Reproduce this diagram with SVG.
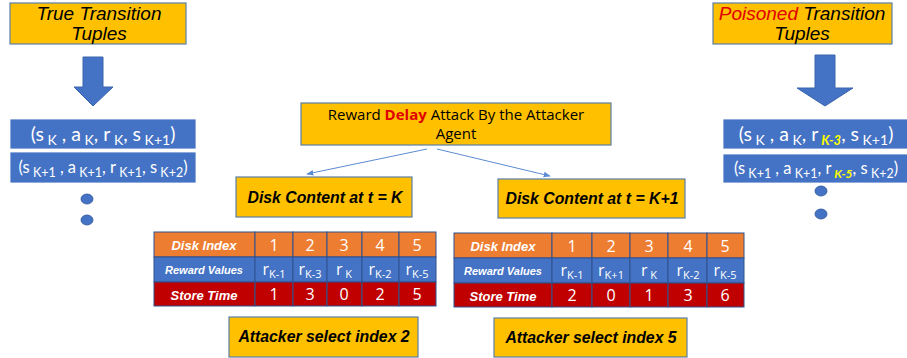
<svg xmlns="http://www.w3.org/2000/svg" width="907" height="358" viewBox="0 0 907 358">
<defs>
<style>
.ybox{fill:#FFC000;stroke:#5B7FA8;stroke-width:1.2}
.tbox{fill:#4472C4;stroke:#fff;stroke-width:0.8}
.arrow{fill:#4472C4;stroke:#3A64AE;stroke-width:1}
.dot{fill:#4472C4;stroke:#2F5597;stroke-width:0.8}
.title{font-family:"Liberation Sans",sans-serif;font-style:italic;font-size:19px;fill:#000}
.tup{font-family:Lato,"Open Sans",sans-serif;fill:#fff}
.mid{font-family:"Open Sans",sans-serif;font-size:15px;fill:#000}
.bi{font-family:"Liberation Sans",sans-serif;font-weight:bold;font-style:italic;fill:#000}
.or{fill:#ED7D31;stroke:#2F528F;stroke-width:1}
.bl{fill:#4472C4;stroke:#2F528F;stroke-width:1}
.rd{fill:#C00000;stroke:#2F528F;stroke-width:1}
.hd{font-family:"Liberation Sans",sans-serif;font-weight:bold;font-style:italic;fill:#fff}
.num{font-family:"Open Sans",sans-serif;font-size:16px;fill:#fff}
.rv{font-family:"Open Sans",sans-serif;font-size:16px;fill:#fff}
.conn{stroke:#5B8BD0;stroke-width:1;fill:none}
</style>
<marker id="ah" viewBox="0 0 10 10" refX="9" refY="5" markerWidth="7" markerHeight="7" orient="auto-start-reverse" markerUnits="userSpaceOnUse">
<path d="M0,1 L10,5 L0,9 z" fill="#5B8BD0"/>
</marker>
</defs>

<!-- Left: true transition tuples -->
<g id="true-title">
<rect class="ybox" x="10" y="3" width="176" height="41"/>
<text class="title" x="99" y="20" text-anchor="middle">True Transition</text>
<text class="title" x="99" y="40" text-anchor="middle">Tuples</text>
</g>
<g id="true-arrow">
<path class="arrow" d="M83,57 L103,57 L103,87 L113,87 L93,106 L74,87 L83,87 z"/>
</g>
<g id="true-tuple1">
<rect class="tbox" x="10" y="119" width="186" height="30"/>
<text class="tup" x="103" y="141" text-anchor="middle" font-size="19.5">(s<tspan font-size="14" dy="4"> K</tspan><tspan dy="-4"> , a</tspan><tspan font-size="14" dy="4"> K</tspan><tspan dy="-4">, r</tspan><tspan font-size="14" dy="4"> K</tspan><tspan dy="-4">, s</tspan><tspan font-size="14" dy="4"> K+1</tspan><tspan dy="-4">)</tspan></text>
</g>
<g id="true-tuple2">
<rect class="tbox" x="10" y="152" width="186" height="31"/>
<text class="tup" x="103" y="173" text-anchor="middle" font-size="16.5">(s<tspan font-size="12.5" dy="4"> K+1</tspan><tspan dy="-4"> , a</tspan><tspan font-size="12.5" dy="4"> K+1</tspan><tspan dy="-4">, r</tspan><tspan font-size="12.5" dy="4"> K+1</tspan><tspan dy="-4">, s</tspan><tspan font-size="12.5" dy="4"> K+2</tspan><tspan dy="-4">)</tspan></text>
</g>
<g id="true-dots">
<ellipse class="dot" cx="87" cy="199" rx="6" ry="5"/>
<ellipse class="dot" cx="87" cy="220" rx="6" ry="5"/>
</g>

<!-- Right: poisoned transition tuples -->
<g id="poison-title">
<rect class="ybox" x="713" y="3" width="179" height="41"/>
<text class="title" x="802" y="20" text-anchor="middle"><tspan fill="#E00000">Poisoned</tspan> Transition</text>
<text class="title" x="802" y="40" text-anchor="middle">Tuples</text>
</g>
<g id="poison-arrow">
<path class="arrow" d="M815,55 L835,55 L835,88 L853,88 L825,106 L797,88 L815,88 z"/>
</g>
<g id="poison-tuple1">
<rect class="tbox" x="723" y="119" width="186" height="30"/>
<text class="tup" x="816" y="141" text-anchor="middle" font-size="19.5">(s<tspan font-size="14" dy="4"> K</tspan><tspan dy="-4"> , a</tspan><tspan font-size="14" dy="4"> K</tspan><tspan dy="-4">, r</tspan><tspan font-size="13" dy="4" fill="#FFFF00" font-weight="bold" font-style="italic"> K-3</tspan><tspan dy="-4">, s</tspan><tspan font-size="14" dy="4"> K+1</tspan><tspan dy="-4">)</tspan></text>
</g>
<g id="poison-tuple2">
<rect class="tbox" x="723" y="154" width="186" height="29"/>
<text class="tup" x="816" y="174" text-anchor="middle" font-size="16.5">(s<tspan font-size="12.5" dy="4"> K+1</tspan><tspan dy="-4"> , a</tspan><tspan font-size="12.5" dy="4"> K+1</tspan><tspan dy="-4">, r</tspan><tspan font-size="12" dy="4" fill="#FFFF00" font-weight="bold" font-style="italic"> K-5</tspan><tspan dy="-4">, s</tspan><tspan font-size="12.5" dy="4"> K+2</tspan><tspan dy="-4">)</tspan></text>
</g>
<g id="poison-dots">
<ellipse class="dot" cx="821" cy="191" rx="6" ry="5"/>
<ellipse class="dot" cx="821" cy="214" rx="6" ry="5"/>
</g>

<!-- Middle -->
<g id="attack-box">
<rect class="ybox" x="301" y="103" width="310" height="42"/>
<text class="mid" x="456" y="120" text-anchor="middle">Reward <tspan fill="#E00000" font-weight="bold">Delay</tspan> Attack By the Attacker</text>
<text class="mid" x="456" y="139" text-anchor="middle">Agent</text>
</g>

<g id="connectors">
<line class="conn" x1="427" y1="149" x2="307" y2="174" marker-end="url(#ah)"/>
<line class="conn" x1="437" y1="149" x2="550" y2="176" marker-end="url(#ah)"/>
</g>

<g id="disk-k">
<rect class="ybox" x="236" y="177" width="176" height="40"/>
<text class="bi" x="325" y="203" text-anchor="middle" font-size="15.8">Disk Content at t = K</text>
</g>
<g id="disk-k1">
<rect class="ybox" x="498" y="179" width="187" height="39"/>
<text class="bi" x="592" y="204" text-anchor="middle" font-size="15.8">Disk Content at t = K+1</text>
</g>

<!-- Table left -->
<g id="table-k">
<rect class="or" x="154" y="232" width="101" height="25"/>
<rect class="or" x="255" y="232" width="38" height="25"/>
<rect class="or" x="293" y="232" width="34" height="25"/>
<rect class="or" x="327" y="232" width="35" height="25"/>
<rect class="or" x="362" y="232" width="37" height="25"/>
<rect class="or" x="399" y="232" width="37" height="25"/>
<rect class="bl" x="154" y="257" width="101" height="25"/>
<rect class="bl" x="255" y="257" width="38" height="25"/>
<rect class="bl" x="293" y="257" width="34" height="25"/>
<rect class="bl" x="327" y="257" width="35" height="25"/>
<rect class="bl" x="362" y="257" width="37" height="25"/>
<rect class="bl" x="399" y="257" width="37" height="25"/>
<rect class="rd" x="154" y="282" width="101" height="24"/>
<rect class="rd" x="255" y="282" width="38" height="24"/>
<rect class="rd" x="293" y="282" width="34" height="24"/>
<rect class="rd" x="327" y="282" width="35" height="24"/>
<rect class="rd" x="362" y="282" width="37" height="24"/>
<rect class="rd" x="399" y="282" width="37" height="24"/>
<text class="hd" x="204" y="250" text-anchor="middle" font-size="13">Disk Index</text>
<text class="hd" x="204" y="274" text-anchor="middle" font-size="11">Reward Values</text>
<text class="hd" x="204" y="300" text-anchor="middle" font-size="13">Store Time</text>
<text class="num" x="274" y="251" text-anchor="middle">1</text>
<text class="num" x="310" y="251" text-anchor="middle">2</text>
<text class="num" x="344" y="251" text-anchor="middle">3</text>
<text class="num" x="380" y="251" text-anchor="middle">4</text>
<text class="num" x="417" y="251" text-anchor="middle">5</text>
<text class="rv" x="274" y="275" text-anchor="middle">r<tspan font-size="11" dy="3">K-1</tspan></text>
<text class="rv" x="310" y="275" text-anchor="middle">r<tspan font-size="11" dy="3">K-3</tspan></text>
<text class="rv" x="344" y="275" text-anchor="middle">r<tspan font-size="11" dy="3"> K</tspan></text>
<text class="rv" x="380" y="275" text-anchor="middle">r<tspan font-size="11" dy="3">K-2</tspan></text>
<text class="rv" x="417" y="275" text-anchor="middle">r<tspan font-size="11" dy="3">K-5</tspan></text>
<text class="num" x="274" y="300" text-anchor="middle">1</text>
<text class="num" x="310" y="300" text-anchor="middle">3</text>
<text class="num" x="344" y="300" text-anchor="middle">0</text>
<text class="num" x="380" y="300" text-anchor="middle">2</text>
<text class="num" x="417" y="300" text-anchor="middle">5</text>
</g>

<!-- Table right -->
<g id="table-k1">
<rect class="or" x="454" y="233" width="98" height="25"/>
<rect class="or" x="552" y="233" width="40" height="25"/>
<rect class="or" x="592" y="233" width="38" height="25"/>
<rect class="or" x="630" y="233" width="38" height="25"/>
<rect class="or" x="668" y="233" width="39" height="25"/>
<rect class="or" x="707" y="233" width="37" height="25"/>
<rect class="bl" x="454" y="258" width="98" height="25"/>
<rect class="bl" x="552" y="258" width="40" height="25"/>
<rect class="bl" x="592" y="258" width="38" height="25"/>
<rect class="bl" x="630" y="258" width="38" height="25"/>
<rect class="bl" x="668" y="258" width="39" height="25"/>
<rect class="bl" x="707" y="258" width="37" height="25"/>
<rect class="rd" x="454" y="283" width="98" height="24"/>
<rect class="rd" x="552" y="283" width="40" height="24"/>
<rect class="rd" x="592" y="283" width="38" height="24"/>
<rect class="rd" x="630" y="283" width="38" height="24"/>
<rect class="rd" x="668" y="283" width="39" height="24"/>
<rect class="rd" x="707" y="283" width="37" height="24"/>
<text class="hd" x="503" y="251" text-anchor="middle" font-size="13">Disk Index</text>
<text class="hd" x="503" y="275" text-anchor="middle" font-size="11">Reward Values</text>
<text class="hd" x="503" y="301" text-anchor="middle" font-size="13">Store Time</text>
<text class="num" x="572" y="252" text-anchor="middle">1</text>
<text class="num" x="611" y="252" text-anchor="middle">2</text>
<text class="num" x="649" y="252" text-anchor="middle">3</text>
<text class="num" x="688" y="252" text-anchor="middle">4</text>
<text class="num" x="725" y="252" text-anchor="middle">5</text>
<text class="rv" x="572" y="276" text-anchor="middle">r<tspan font-size="11" dy="3">K-1</tspan></text>
<text class="rv" x="611" y="276" text-anchor="middle">r<tspan font-size="11" dy="3">K+1</tspan></text>
<text class="rv" x="649" y="276" text-anchor="middle">r<tspan font-size="11" dy="3"> K</tspan></text>
<text class="rv" x="688" y="276" text-anchor="middle">r<tspan font-size="11" dy="3">K-2</tspan></text>
<text class="rv" x="725" y="276" text-anchor="middle">r<tspan font-size="11" dy="3">K-5</tspan></text>
<text class="num" x="572" y="301" text-anchor="middle">2</text>
<text class="num" x="611" y="301" text-anchor="middle">0</text>
<text class="num" x="649" y="301" text-anchor="middle">1</text>
<text class="num" x="688" y="301" text-anchor="middle">3</text>
<text class="num" x="725" y="301" text-anchor="middle">6</text>
</g>

<g id="select-2">
<rect class="ybox" x="229" y="317" width="189" height="40"/>
<text class="bi" x="324" y="342" text-anchor="middle" font-size="15.8">Attacker select index 2</text>
</g>
<g id="select-5">
<rect class="ybox" x="494" y="318" width="193" height="39"/>
<text class="bi" x="591" y="343" text-anchor="middle" font-size="15.8">Attacker select index 5</text>
</g>
</svg>
